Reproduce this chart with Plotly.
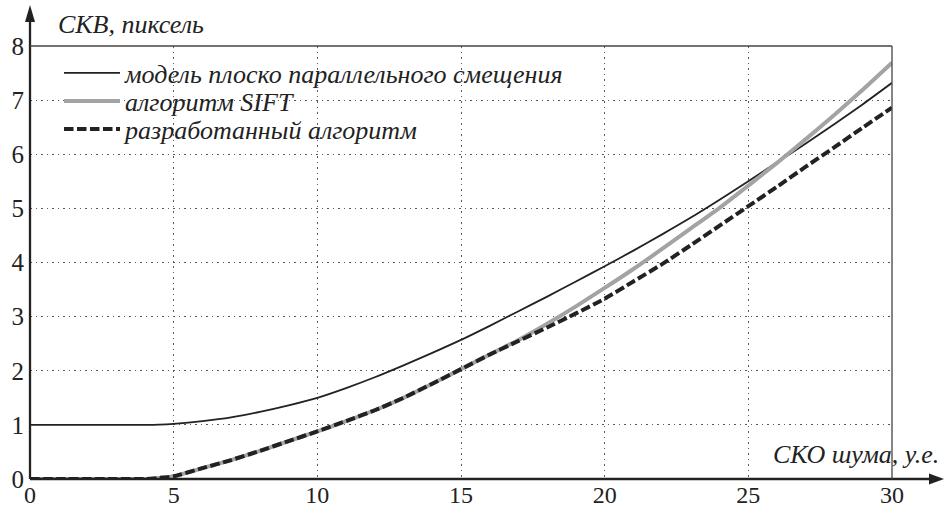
import plotly.graph_objects as go

# ---- data ----
noise_sko = [0, 1, 2, 3, 4, 4.5, 5, 6, 7, 8, 9, 10, 11, 12, 13, 14, 15, 16, 17, 18, 19, 20,
             21, 22, 23, 24, 25, 26, 27, 28, 29, 30]
model_rmse = [1.0, 1.0, 1.0, 1.0, 1.0, 1.005, 1.02, 1.07, 1.14, 1.24, 1.36, 1.50, 1.68, 1.88,
              2.10, 2.33, 2.57, 2.83, 3.10, 3.37, 3.65, 3.93, 4.22, 4.52, 4.83, 5.16, 5.50,
              5.85, 6.20, 6.56, 6.93, 7.32]
sift_rmse = [0, 0, 0, 0, 0, 0.02, 0.05, 0.20, 0.35, 0.52, 0.70, 0.88, 1.07, 1.27, 1.50, 1.76,
             2.03, 2.30, 2.57, 2.87, 3.19, 3.53, 3.88, 4.25, 4.63, 5.01, 5.42, 5.84, 6.28,
             6.73, 7.20, 7.69]
new_rmse = [0, 0, 0, 0, 0, 0.02, 0.05, 0.20, 0.35, 0.52, 0.70, 0.88, 1.07, 1.27, 1.50, 1.76,
            2.03, 2.30, 2.55, 2.80, 3.06, 3.33, 3.65, 3.97, 4.32, 4.68, 5.04, 5.40, 5.77,
            6.13, 6.50, 6.86]

series_names = ["модель плоско параллельного смещения", "алгоритм SIFT", "разработанный алгоритм"]
x_ticks = [0, 5, 10, 15, 20, 25, 30]
y_ticks = [0, 1, 2, 3, 4, 5, 6, 7, 8]
x_title = "СКО шума, у.е."
y_title = "СКВ, пиксель"

SERIF = "Liberation Serif"
INK = "#222222"

W, H = 944, 509
ML, MR, MT, MB = 30, 52, 46, 30
pw, ph = W - ML - MR, H - MT - MB


def px_x(p):
    return (p - ML) / pw


def px_y(p):
    return (H - MB - p) / ph


fig = go.Figure()
fig.add_trace(go.Scatter(x=noise_sko, y=model_rmse, mode="lines", name=series_names[0],
                         legend="legend",
                         line=dict(color=INK, width=1.8, shape="spline", smoothing=0.6)))
fig.add_trace(go.Scatter(x=noise_sko, y=sift_rmse, mode="lines", name=series_names[1],
                         legend="legend2",
                         line=dict(color="#a3a3a3", width=4, shape="spline", smoothing=0.6)))
fig.add_trace(go.Scatter(x=noise_sko, y=new_rmse, mode="lines", name=series_names[2],
                         legend="legend3",
                         line=dict(color=INK, width=4, dash="9.5px,3.5px", shape="spline",
                                   smoothing=0.6)))

shapes = [
    # x axis with arrow
    dict(type="line", xref="paper", yref="paper", x0=0, y0=0, x1=px_x(934), y1=0,
         line=dict(color=INK, width=2.3)),
    dict(type="path", xref="paper", yref="paper",
         path=f"M{px_x(944)},{0} L{px_x(929)},{px_y(H - MB - 5.5)} L{px_x(929)},{px_y(H - MB + 5.5)} Z",
         fillcolor=INK, line=dict(color=INK, width=0)),
    # y axis with arrow
    dict(type="line", xref="paper", yref="paper", x0=0, y0=0, x1=0, y1=px_y(16),
         line=dict(color=INK, width=2.3)),
    dict(type="path", xref="paper", yref="paper",
         path=f"M0,{px_y(5)} L{px_x(ML - 5)},{px_y(22)} L{px_x(ML + 5)},{px_y(22)} Z",
         fillcolor=INK, line=dict(color=INK, width=0)),
    # top and right frame
    dict(type="line", xref="paper", yref="paper", x0=0, y0=1, x1=1, y1=1,
         line=dict(color="#444444", width=1.3)),
    dict(type="line", xref="paper", yref="paper", x0=1, y0=0, x1=1, y1=1,
         line=dict(color="#444444", width=1.3)),
]

annotations = [
    dict(text=y_title, xref="paper", yref="paper", x=px_x(56), y=px_y(24),
         xanchor="left", yanchor="middle", showarrow=False,
         font=dict(family=SERIF, size=26, color=INK, style="italic")),
    dict(text=x_title, xref="paper", yref="paper", x=px_x(941), y=px_y(454),
         xanchor="right", yanchor="middle", showarrow=False,
         font=dict(family=SERIF, size=26, color=INK, style="italic")),
]

grid = dict(showgrid=True, gridcolor="#5a5a5a", gridwidth=1, griddash="1.5px,4px")


def legend_at(center_px):
    return dict(x=px_x(59), y=px_y(center_px), xanchor="left", yanchor="middle",
                bgcolor="rgba(0,0,0,0)", borderwidth=0,
                font=dict(family=SERIF, size=26, color=INK, style="italic"),
                itemwidth=56)


fig.update_layout(
    width=W, height=H,
    margin=dict(l=ML, r=MR, t=MT, b=MB, pad=0, autoexpand=False),
    paper_bgcolor="white", plot_bgcolor="white",
    font=dict(family=SERIF, color=INK, size=24),
    xaxis=dict(range=[0, 30], tickvals=x_ticks, ticks="", showline=False, zeroline=False,
               automargin=False,
               tickfont=dict(family=SERIF, size=24, color=INK), ticklabelstandoff=-1, **grid),
    yaxis=dict(range=[0, 8], tickvals=y_ticks, ticks="", showline=False, zeroline=False,
               automargin=False,
               tickfont=dict(family=SERIF, size=25, color=INK), ticklabelstandoff=5, **grid),
    legend=legend_at(73),
    legend2=legend_at(101),
    legend3=legend_at(129),
    shapes=shapes,
    annotations=annotations,
    showlegend=True,
)

fig.write_html("out.html", post_script="document.body.style.margin='0';",
               config={"displayModeBar": False})
